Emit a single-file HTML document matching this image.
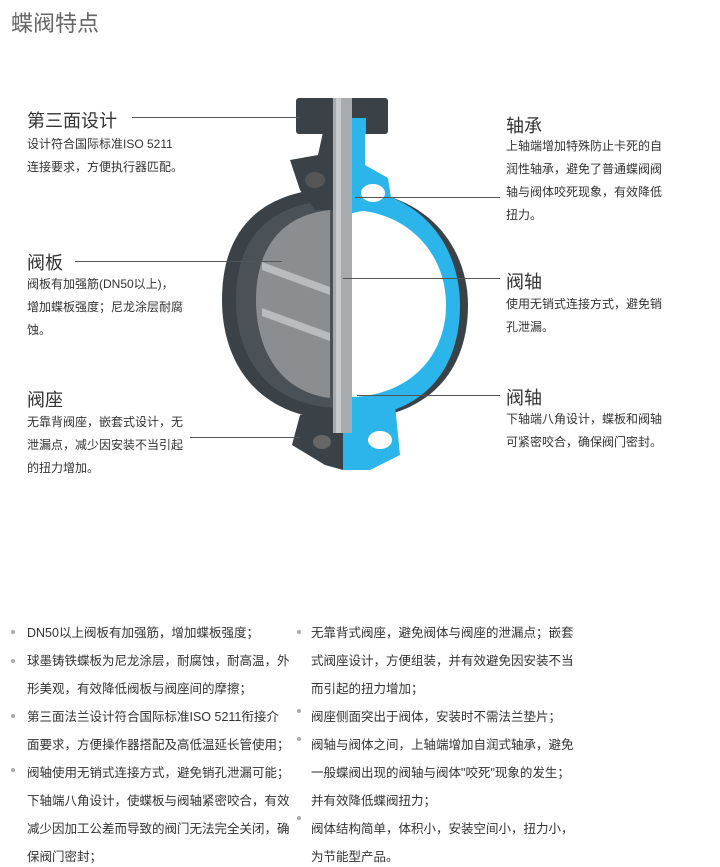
<!DOCTYPE html>
<html><head><meta charset="utf-8"><style>
html,body{margin:0;padding:0;background:#fff;}
body{width:720px;height:867px;position:relative;overflow:hidden;font-family:"Liberation Sans","Noto Sans CJK SC",sans-serif;color:#333;}
.a{position:absolute;white-space:nowrap;}
.t{font-size:22px;color:#666;}
.h{font-size:18px;color:#333;}
.b{font-size:12px;line-height:23px;color:#333;}
.ln{position:absolute;height:1px;background:#555;}
.li{position:absolute;font-size:12.5px;color:#333;white-space:nowrap;}
.dot{position:absolute;width:4px;height:4px;border-radius:2px;background:#aaa;}
</style></head><body>
<div class="a t" style="left:11px;top:6px;">蝶阀特点</div>

<svg class="a" style="left:0;top:0" width="720" height="600">
 <!-- left dark body -->
 <path d="M343,188 C250,188 222,240 222,300 C222,365 260,420 343,420 Z" fill="#3b4247"/>
 <path d="M343,200 C262,200 236,245 236,300 C236,358 268,408 343,408 Z" fill="#4a5257"/>
 <path d="M330,210 C280,215 256,250 256,300 C256,350 280,392 330,398 Z" fill="#8a8e90"/>
 <path d="M262,262 L330,287 L330,295 L262,270 Z" fill="#b8bcbe"/>
 <path d="M262,308 L330,333 L330,341 L262,316 Z" fill="#b8bcbe"/>
 <!-- right dark outer -->
 <path d="M343,190 C430,190 468,250 468,305 C468,370 430,420 343,420 Z" fill="#3b4247"/>
 <!-- blue ring -->
 <path d="M343,188 C425,190 460,250 460,305 C460,368 425,418 343,418 Z" fill="#2bb5ea"/>
 <path d="M352,210 C410,212 446,255 446,305 C446,356 410,395 352,397 Z" fill="#fff"/>
 <!-- neck -->
 <path d="M323,132 L365,132 L365,165 L388,178 L392,205 L343,215 L343,132 Z" fill="#2bb5ea"/>
 <path d="M323,132 L343,132 L343,210 L315,210 L300,190 L290,160 L318,155 Z" fill="#3b4247"/>
 <ellipse cx="373" cy="193" rx="12" ry="9" fill="#fff"/>
 <ellipse cx="315" cy="180" rx="10" ry="8" fill="#555"/>
 <!-- top flange -->
 <rect x="296" y="98" width="92" height="36" rx="3" fill="#3b4247"/>
 <rect x="336" y="118" width="30" height="16" fill="#2bb5ea"/>
 <!-- bottom lugs -->
 <path d="M343,410 L395,405 L400,455 L370,470 L343,470 Z" fill="#2bb5ea"/>
 <ellipse cx="380" cy="440" rx="12" ry="9" fill="#fff"/>
 <path d="M343,410 L300,415 L292,445 L325,465 L343,470 Z" fill="#3b4247"/>
 <ellipse cx="322" cy="442" rx="9" ry="7" fill="#666"/>
 <!-- stem -->
 <rect x="333" y="98" width="19" height="335" fill="#a7abad"/>
 <rect x="336" y="98" width="5" height="335" fill="#c8cbcc"/>
 <!-- leader lines -->
 <line x1="132" y1="117.5" x2="300" y2="117.5" stroke="#555"/>
 <line x1="75" y1="261.5" x2="282" y2="261.5" stroke="#555"/>
 <line x1="190" y1="437.5" x2="300" y2="437.5" stroke="#555"/>
 <line x1="355" y1="197.5" x2="500" y2="197.5" stroke="#555"/>
 <line x1="343" y1="278.5" x2="500" y2="278.5" stroke="#555"/>
 <line x1="357" y1="395.5" x2="500" y2="395.5" stroke="#555"/>
</svg>

<div class="a h" style="left:27px;top:107px;">第三面设计</div>
<div class="a b" style="left:27px;top:133px;">设计符合国际标准ISO 5211<br>连接要求，方便执行器匹配。</div>
<div class="a h" style="left:27px;top:249px;">阀板</div>
<div class="a b" style="left:27px;top:273px;">阀板有加强筋(DN50以上)，<br>增加蝶板强度；尼龙涂层耐腐<br>蚀。</div>
<div class="a h" style="left:27px;top:386px;">阀座</div>
<div class="a b" style="left:27px;top:411px;">无靠背阀座，嵌套式设计，无<br>泄漏点，减少因安装不当引起<br>的扭力增加。</div>

<div class="a h" style="left:506px;top:112px;">轴承</div>
<div class="a b" style="left:506px;top:135px;">上轴端增加特殊防止卡死的自<br>润性轴承，避免了普通蝶阀阀<br>轴与阀体咬死现象，有效降低<br>扭力。</div>
<div class="a h" style="left:506px;top:268px;">阀轴</div>
<div class="a b" style="left:506px;top:293px;">使用无销式连接方式，避免销<br>孔泄漏。</div>
<div class="a h" style="left:506px;top:384px;">阀轴</div>
<div class="a b" style="left:506px;top:408px;">下轴端八角设计，蝶板和阀轴<br>可紧密咬合，确保阀门密封。</div>

<div class="dot" style="left:11px;top:630px"></div>
<div class="dot" style="left:11px;top:659px"></div>
<div class="dot" style="left:11px;top:714px"></div>
<div class="dot" style="left:11px;top:768px"></div>
<div class="li" style="left:27px;top:622px">DN50以上阀板有加强筋，增加蝶板强度；</div>
<div class="li" style="left:27px;top:650px">球墨铸铁蝶板为尼龙涂层，耐腐蚀，耐高温，外</div>
<div class="li" style="left:27px;top:678px">形美观，有效降低阀板与阀座间的摩擦；</div>
<div class="li" style="left:27px;top:706px">第三面法兰设计符合国际标准ISO 5211衔接介</div>
<div class="li" style="left:27px;top:734px">面要求，方便操作器搭配及高低温延长管使用；</div>
<div class="li" style="left:27px;top:762px">阀轴使用无销式连接方式，避免销孔泄漏可能；</div>
<div class="li" style="left:27px;top:790px">下轴端八角设计，使蝶板与阀轴紧密咬合，有效</div>
<div class="li" style="left:27px;top:818px">减少因加工公差而导致的阀门无法完全关闭，确</div>
<div class="li" style="left:27px;top:846px">保阀门密封；</div>

<div class="dot" style="left:297px;top:630px"></div>
<div class="dot" style="left:297px;top:709px"></div>
<div class="dot" style="left:297px;top:737px"></div>
<div class="dot" style="left:297px;top:816px"></div>
<div class="li" style="left:311px;top:622px">无靠背式阀座，避免阀体与阀座的泄漏点；嵌套</div>
<div class="li" style="left:311px;top:650px">式阀座设计，方便组装，并有效避免因安装不当</div>
<div class="li" style="left:311px;top:678px">而引起的扭力增加；</div>
<div class="li" style="left:311px;top:706px">阀座侧面突出于阀体，安装时不需法兰垫片；</div>
<div class="li" style="left:311px;top:734px">阀轴与阀体之间，上轴端增加自润式轴承，避免</div>
<div class="li" style="left:311px;top:762px">一般蝶阀出现的阀轴与阀体"咬死"现象的发生；</div>
<div class="li" style="left:311px;top:790px">并有效降低蝶阀扭力；</div>
<div class="li" style="left:311px;top:818px">阀体结构简单，体积小，安装空间小，扭力小，</div>
<div class="li" style="left:311px;top:846px">为节能型产品。</div>
</body></html>
